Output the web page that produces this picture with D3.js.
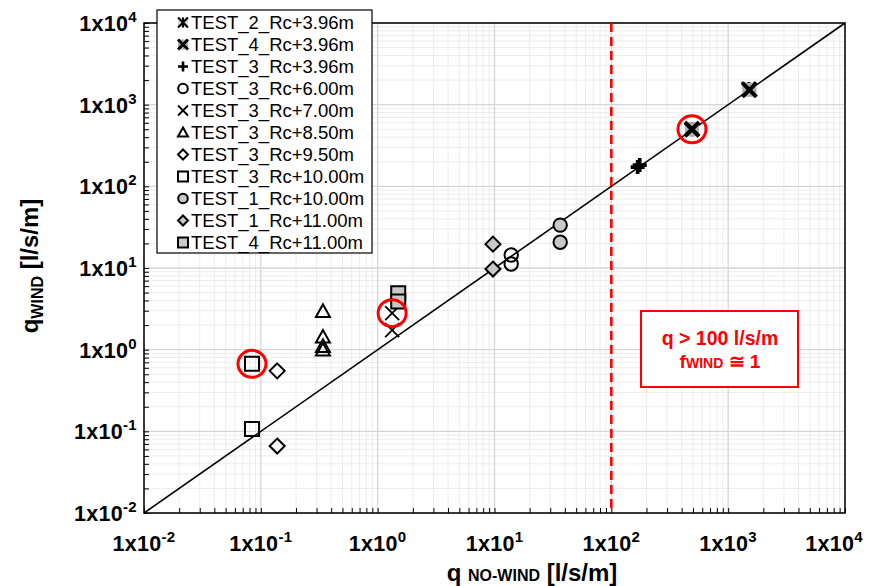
<!DOCTYPE html>
<html>
<head>
<meta charset="utf-8">
<script src="https://cdn.jsdelivr.net/npm/d3@7"></script>
<style>
  body { margin: 0; background: #fff; }
  text { font-family: "Liberation Sans", Arial, sans-serif; }
</style>
</head>
<body>
<svg id="chart" width="870" height="586"></svg>
<script>
const WIDTH = 870;
const HEIGHT = 586;
const MARGIN = {left: 144, right: 25, top: 23, bottom: 73};

// series labels, in legend order
const SERIES = [
    "TEST_2_Rc+3.96m", "TEST_4_Rc+3.96m", "TEST_3_Rc+3.96m", "TEST_3_Rc+6.00m",
    "TEST_3_Rc+7.00m", "TEST_3_Rc+8.50m", "TEST_3_Rc+9.50m", "TEST_3_Rc+10.00m",
    "TEST_1_Rc+10.00m", "TEST_1_Rc+11.00m", "TEST_4_Rc+11.00m"
];
const MARKERS = ["star", "xbold", "plus", "circle", "x", "triangle", "diamond", "square",
    "circleGrey", "diamondGrey", "squareGrey"];

// q no-wind values per series
const X_VALUES = [
    [1500, 490],
    [490, 1520],
    [168, 175],
    [13.9, 13.9],
    [1.33, 1.33],
    [0.34, 0.34, 0.34, 0.34],
    [0.138, 0.138],
    [0.084, 0.084],
    [36.5, 36.5],
    [9.7, 9.7],
    [1.5, 1.5]
];
// q wind values per series
const Y_VALUES = [
    [1550, 500],
    [500, 1520],
    [172, 182],
    [14.4, 11.2],
    [2.8, 1.74],
    [2.95, 1.43, 1.1, 0.99],
    [0.55, 0.066],
    [0.67, 0.107],
    [33.5, 20.7],
    [19.6, 9.7],
    [4.9, 3.9]
];

// highlighted points (red circles)
const HIGHLIGHT_X = [0.084, 1.33, 490];
const HIGHLIGHT_Y = [0.67, 2.8, 500];

const DECADES = [-2, -1, 0, 1, 2, 3, 4];
const THRESHOLD = 100;

var svg = d3.select("#chart");
var plotW = WIDTH - MARGIN.left - MARGIN.right;
var plotH = HEIGHT - MARGIN.top - MARGIN.bottom;

var x = d3.scaleLog().domain([1e-2, 1e4]).range([MARGIN.left, MARGIN.left + plotW]);
var y = d3.scaleLog().domain([1e-2, 1e4]).range([MARGIN.top + plotH, MARGIN.top]);

// minor and major values
var minorVals = [];
DECADES.slice(0, -1).forEach(e => {
    for (let m = 2; m <= 9; m++) minorVals.push(m * Math.pow(10, e));
});
var majorVals = DECADES.map(e => Math.pow(10, e));

var grid = svg.append("g");
grid.selectAll(".vmin").data(minorVals).enter().append("line")
    .attr("x1", d => x(d)).attr("x2", d => x(d))
    .attr("y1", MARGIN.top).attr("y2", MARGIN.top + plotH)
    .attr("stroke", "#ececec").attr("stroke-width", 1);
grid.selectAll(".hmin").data(minorVals).enter().append("line")
    .attr("y1", d => y(d)).attr("y2", d => y(d))
    .attr("x1", MARGIN.left).attr("x2", MARGIN.left + plotW)
    .attr("stroke", "#ececec").attr("stroke-width", 1);
grid.selectAll(".vmaj").data(majorVals).enter().append("line")
    .attr("x1", d => x(d)).attr("x2", d => x(d))
    .attr("y1", MARGIN.top).attr("y2", MARGIN.top + plotH)
    .attr("stroke", "#d6d6d6").attr("stroke-width", 1.3);
grid.selectAll(".hmaj").data(majorVals).enter().append("line")
    .attr("y1", d => y(d)).attr("y2", d => y(d))
    .attr("x1", MARGIN.left).attr("x2", MARGIN.left + plotW)
    .attr("stroke", "#d6d6d6").attr("stroke-width", 1.3);

// axes with inward ticks
var xAxis = d3.axisTop(x).tickValues(minorVals.concat(majorVals)).tickSize(5).tickFormat("");
var yAxis = d3.axisRight(y).tickValues(minorVals.concat(majorVals)).tickSize(5).tickFormat("");
svg.append("g").attr("transform", `translate(0,${MARGIN.top + plotH})`).call(xAxis)
    .call(g => g.select(".domain").remove())
    .selectAll("line").attr("stroke", "#000");
svg.append("g").attr("transform", `translate(${MARGIN.left},0)`).call(yAxis)
    .call(g => g.select(".domain").remove())
    .selectAll("line").attr("stroke", "#000");

// frame
svg.append("rect")
    .attr("x", MARGIN.left).attr("y", MARGIN.top)
    .attr("width", plotW).attr("height", plotH)
    .attr("fill", "none").attr("stroke", "#000").attr("stroke-width", 1.5);

// tick labels
function powLabel(sel, e) {
    sel.append("tspan").text("1x10");
    sel.append("tspan").attr("dy", -9).attr("font-size", 15).text(e);
}
DECADES.forEach((e, i) => {
    var last = i == DECADES.length - 1;
    svg.append("text")
        .attr("x", last ? WIDTH - 7 : x(Math.pow(10, e)))
        .attr("y", MARGIN.top + plotH + 38)
        .attr("text-anchor", last ? "end" : "middle")
        .attr("font-size", 21.5).attr("font-weight", "bold")
        .attr("letter-spacing", 0.3)
        .call(powLabel, e);
    svg.append("text")
        .attr("x", MARGIN.left - 7)
        .attr("y", y(Math.pow(10, e)) + 8)
        .attr("text-anchor", "end")
        .attr("font-size", 21.5).attr("font-weight", "bold")
        .attr("letter-spacing", 0.3)
        .call(powLabel, e);
});

// axis titles
var xt = svg.append("text")
    .attr("x", 532).attr("y", 581)
    .attr("text-anchor", "middle").attr("font-weight", "bold").attr("font-size", 24);
xt.append("tspan").text("q ");
xt.append("tspan").attr("font-size", 16).text("NO-WIND");
xt.append("tspan").text(" [l/s/m]");

var yt = svg.append("text")
    .attr("transform", "translate(38,266) rotate(-90)")
    .attr("text-anchor", "middle").attr("font-weight", "bold").attr("font-size", 24);
yt.append("tspan").text("q");
yt.append("tspan").attr("font-size", 16).attr("dy", 5).text("WIND");
yt.append("tspan").attr("dy", -5).text(" [l/s/m]");

// 1:1 line
svg.append("line")
    .attr("x1", x(1e-2)).attr("y1", y(1e-2))
    .attr("x2", x(1e4)).attr("y2", y(1e4))
    .attr("stroke", "#000").attr("stroke-width", 1.6);

// threshold line
svg.append("line")
    .attr("x1", x(THRESHOLD)).attr("x2", x(THRESHOLD))
    .attr("y1", MARGIN.top).attr("y2", MARGIN.top + plotH)
    .attr("stroke", "#ff0000").attr("stroke-width", 2.6)
    .attr("stroke-dasharray", "9,5");

// marker drawing
function drawMarker(g, type, cx, cy, s) {
    var h = s / 2;
    var k = g.append("g").attr("transform", `translate(${cx},${cy})`);
    var xPath = `M${-h},${-h}L${h},${h}M${-h},${h}L${h},${-h}`;
    if (type == "star") {
        k.append("rect").attr("x", -h).attr("y", -h).attr("width", s).attr("height", s)
            .attr("fill", "#9a9a9a").attr("opacity", 0.4);
        k.append("path").attr("d", xPath + `M0,${-h}L0,${h}`)
            .attr("stroke", "#000").attr("stroke-width", s / 5).attr("fill", "none");
    } else if (type == "xbold") {
        k.append("rect").attr("x", -h).attr("y", -h).attr("width", s).attr("height", s)
            .attr("fill", "#b0b0b0");
        k.append("path").attr("d", xPath)
            .attr("stroke", "#000").attr("stroke-width", s / 3.5).attr("fill", "none");
    } else if (type == "plus") {
        k.append("path").attr("d", `M${-h},0L${h},0M0,${-h}L0,${h}`)
            .attr("stroke", "#000").attr("stroke-width", s / 3.8).attr("fill", "none");
    } else if (type == "x") {
        k.append("path").attr("d", xPath)
            .attr("stroke", "#000").attr("stroke-width", 1.8).attr("fill", "none");
    } else {
        var fill = type.endsWith("Grey") ? "#c8c8c8" : "none";
        var base = type.replace("Grey", "");
        var d;
        if (base == "circle") d = d3.symbol(d3.symbolCircle, s * s * 0.72)();
        else if (base == "square") d = `M${-h},${-h}H${h}V${h}H${-h}Z`;
        else if (base == "diamond") d = `M0,${-h}L${h},0L0,${h}L${-h},0Z`;
        else if (base == "triangle") d = `M0,${-h}L${h},${h * 0.8}L${-h},${h * 0.8}Z`;
        k.append("path").attr("d", d)
            .attr("fill", fill).attr("stroke", "#000").attr("stroke-width", 2);
    }
}

var pts = svg.append("g");
SERIES.forEach((name, i) => {
    X_VALUES[i].forEach((xv, j) => {
        var size = MARKERS[i] == "diamond" || MARKERS[i] == "diamondGrey" ? 15 : 14;
        drawMarker(pts, MARKERS[i], x(xv), y(Y_VALUES[i][j]), size);
    });
});

// red highlight circles
svg.selectAll(".hl").data(HIGHLIGHT_X).enter().append("ellipse")
    .attr("cx", d => x(d)).attr("cy", (d, i) => y(HIGHLIGHT_Y[i]))
    .attr("rx", 14).attr("ry", 13.5)
    .attr("fill", "none").attr("stroke", "#ff0000").attr("stroke-width", 3);

// legend
var leg = svg.append("g");
leg.append("rect")
    .attr("x", 157).attr("y", 10).attr("width", 215).attr("height", 243)
    .attr("fill", "#fff").attr("stroke", "#000").attr("stroke-width", 1.2);
SERIES.forEach((name, i) => {
    var ly = 22.5 + i * 22;
    drawMarker(leg, MARKERS[i], 183, ly, 10);
    leg.append("text").attr("x", 191).attr("y", ly + 6.5)
        .attr("font-size", 18.5).text(name);
});

// annotation box
var box = svg.append("g");
box.append("rect")
    .attr("x", 641).attr("y", 311).attr("width", 157).attr("height", 76)
    .attr("fill", "#fff").attr("stroke", "#ff0000").attr("stroke-width", 2);
box.append("text").attr("x", 720).attr("y", 345)
    .attr("text-anchor", "middle").attr("fill", "#ff0000")
    .attr("font-weight", "bold").attr("font-size", 19.5).text("q > 100 l/s/m");
var ft = box.append("text").attr("x", 720).attr("y", 368)
    .attr("text-anchor", "middle").attr("fill", "#ff0000")
    .attr("font-weight", "bold").attr("font-size", 19);
ft.append("tspan").text("f");
ft.append("tspan").attr("font-size", 14).text("WIND");
ft.append("tspan").text(" \u2245 1");
</script>
</body>
</html>
